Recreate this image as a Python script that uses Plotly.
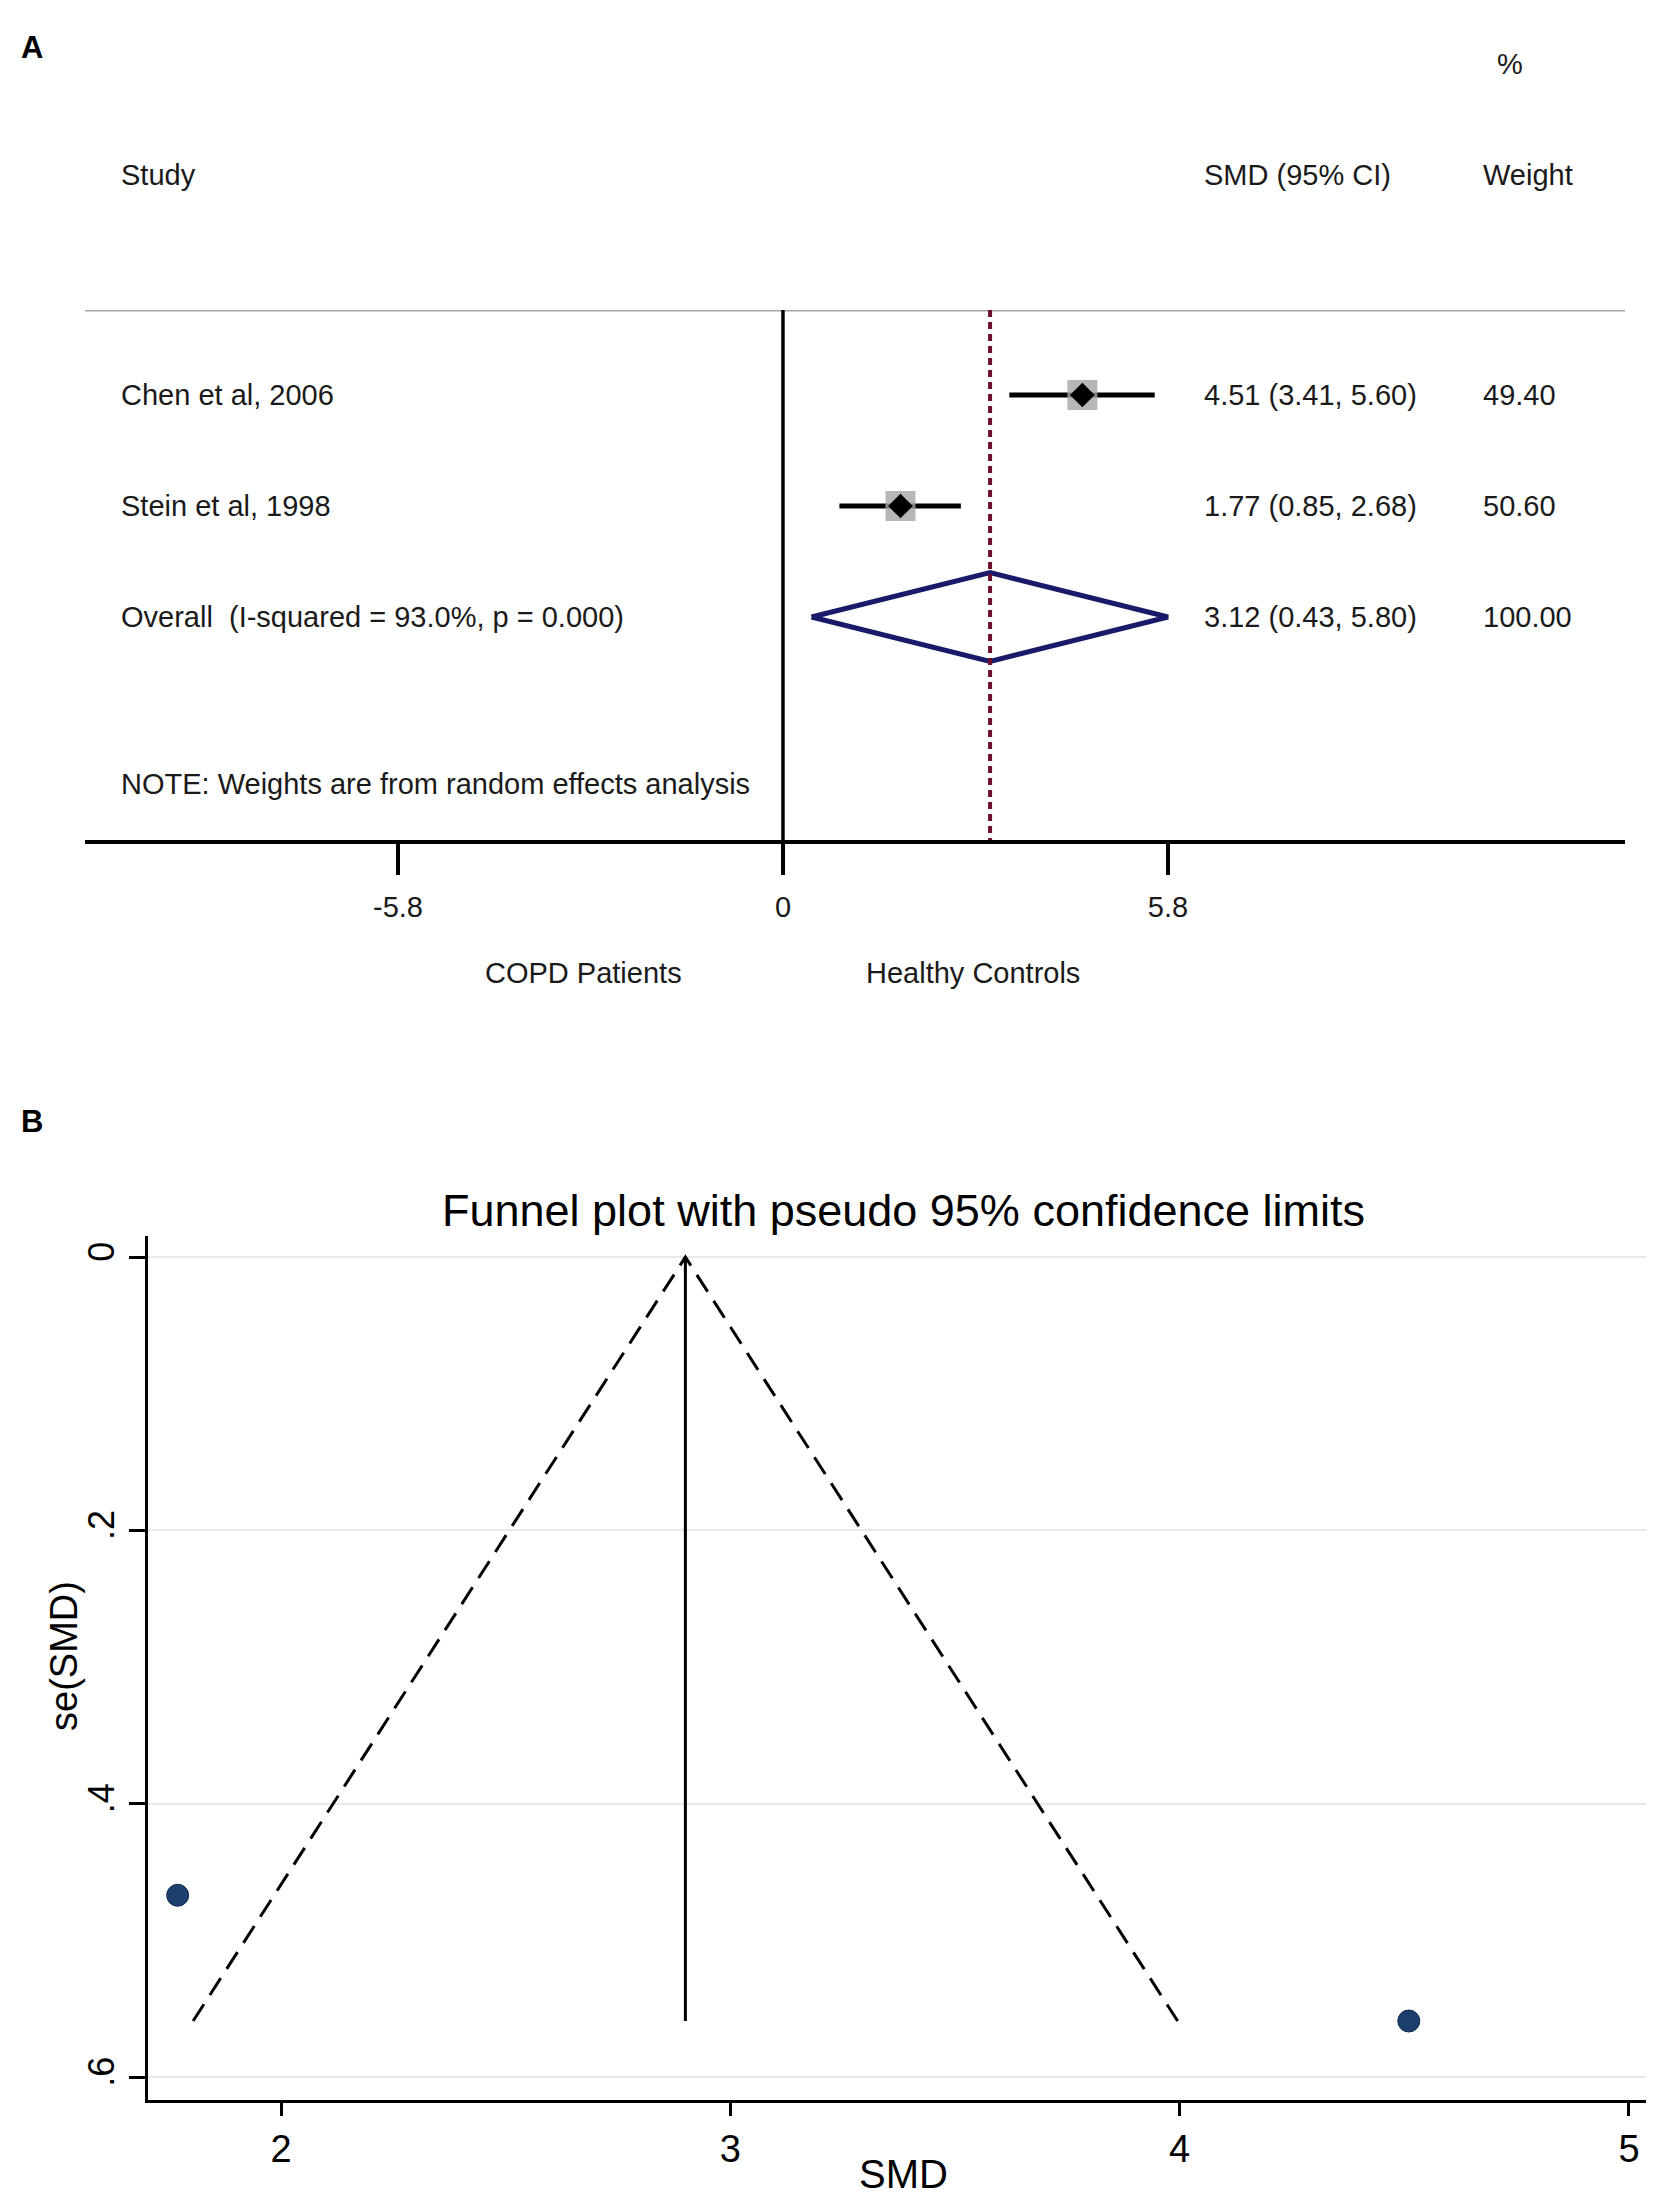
import plotly.graph_objects as go

# ---------------- data ----------------
studies = ["Chen et al, 2006", "Stein et al, 1998"]
smd = [4.51, 1.77]
ci_lo = [3.41, 0.85]
ci_hi = [5.60, 2.68]
weights = ["49.40", "50.60"]
smd_text = ["4.51 (3.41, 5.60)", "1.77 (0.85, 2.68)"]
rows = [1, 2]

overall_label = "Overall  (I-squared = 93.0%, p = 0.000)"
overall_smd = 3.12
overall_lo = 0.43
overall_hi = 5.80
overall_text = "3.12 (0.43, 5.80)"
overall_weight = "100.00"
overall_row = 3
note_row = 4.5

forest_ticks = [-5.8, 0, 5.8]
forest_ticktext = ["-5.8", "0", "5.8"]

# funnel
funnel_smd = [1.77, 4.51]
funnel_se = [0.467, 0.559]
fixed_est = 2.90
se_max = 0.559
funnel_xticks = [2, 3, 4, 5]
funnel_yticks = [0, 0.2, 0.4, 0.6]
funnel_yticktext = ["0", ".2", ".4", ".6"]

W, H = 1654, 2192
FONT = "Liberation Sans, Arial, sans-serif"


def px(x):
    return x / W


def py(y):
    return 1 - y / H


fig = go.Figure()

# ---------------- Panel A: forest plot ----------------
for i in range(len(studies)):
    fig.add_trace(go.Scatter(x=[ci_lo[i], ci_hi[i]], y=[rows[i], rows[i]], mode="lines",
                             line=dict(color="black", width=5), xaxis="x", yaxis="y",
                             showlegend=False, hoverinfo="skip"))
fig.add_trace(go.Scatter(x=smd, y=rows, mode="markers",
                         marker=dict(symbol="square", size=30, color="rgba(165,165,165,0.8)"),
                         xaxis="x", yaxis="y", showlegend=False, hoverinfo="skip"))
fig.add_trace(go.Scatter(x=smd, y=rows, mode="markers",
                         marker=dict(symbol="diamond", size=19, color="black"),
                         xaxis="x", yaxis="y", showlegend=False))
fig.add_trace(go.Scatter(x=[overall_lo, overall_smd, overall_hi, overall_smd, overall_lo],
                         y=[overall_row, overall_row - 0.4, overall_row, overall_row + 0.4, overall_row],
                         mode="lines", line=dict(color="#1a1a6b", width=5),
                         xaxis="x", yaxis="y", showlegend=False))

# ---------------- Panel B: funnel plot ----------------
fig.add_trace(go.Scatter(x=[fixed_est - 1.96 * se_max, fixed_est, fixed_est + 1.96 * se_max],
                         y=[se_max, 0, se_max], mode="lines",
                         line=dict(color="black", width=3, dash="20px,11px"),
                         xaxis="x2", yaxis="y2", showlegend=False))
fig.add_trace(go.Scatter(x=[fixed_est, fixed_est], y=[0, se_max], mode="lines",
                         line=dict(color="black", width=3),
                         xaxis="x2", yaxis="y2", showlegend=False))
fig.add_trace(go.Scatter(x=funnel_smd, y=funnel_se, mode="markers",
                         marker=dict(size=22, color="#1c3f6e", line=dict(color="#102a4c", width=1)),
                         xaxis="x2", yaxis="y2", showlegend=False))

shapes = [
    dict(type="line", xref="x domain", yref="y", x0=0, x1=1, y0=0.234, y1=0.234,
         line=dict(color="#a6a6a6", width=3)),
    dict(type="line", xref="x", yref="y", x0=0, x1=0, y0=0.234, y1=5.009,
         line=dict(color="black", width=3.5)),
    dict(type="line", xref="x", yref="y", x0=overall_smd, x1=overall_smd, y0=0.234, y1=5.009,
         line=dict(color="#6e0f2c", width=4, dash="7px,5px")),
]

annotations = []


def txt(text, x, y, size=29, xanchor="left", yref="paper", xref="paper", bold=False, angle=0,
        color="#1a1a1a"):
    annotations.append(dict(text=("<b>%s</b>" % text) if bold else text, x=x, y=y, xref=xref, yref=yref,
                            xanchor=xanchor, yanchor="middle", showarrow=False, textangle=angle,
                            font=dict(family=FONT, size=size, color=color)))


txt("A", px(11), py(39), size=31, bold=True, color="black")
txt("B", px(11), py(1113), size=31, bold=True, color="black")

txt("%", px(1487), py(56))
txt("Study", px(111), py(167))
txt("SMD (95% CI)", px(1194), py(167))
txt("Weight", px(1473), py(167))

for i in range(len(studies)):
    txt(studies[i], px(111), rows[i], yref="y")
    txt(smd_text[i], px(1194), rows[i], yref="y")
    txt(weights[i], px(1473), rows[i], yref="y")
txt(overall_label, px(111), overall_row, yref="y")
txt(overall_text, px(1194), overall_row, yref="y")
txt(overall_weight, px(1473), overall_row, yref="y")
txt("NOTE: Weights are from random effects analysis", px(111), note_row, yref="y")

txt("COPD Patients", px(575), py(965), xanchor="center")
txt("Healthy Controls", px(965), py(965), xanchor="center")

txt("Funnel plot with pseudo 95% confidence limits", px(895), py(1202), size=45, xanchor="center",
    color="black")
txt("se(SMD)", px(56), py(1648), size=38, xanchor="center", angle=-90, color="black")
txt("SMD", px(895), py(2166), size=40, xanchor="center", color="black")

fig.update_layout(
    width=W, height=H,
    margin=dict(l=0, r=0, t=0, b=0),
    paper_bgcolor="white", plot_bgcolor="white",
    font=dict(family=FONT, color="black"),
    shapes=shapes, annotations=annotations,
    xaxis=dict(domain=[px(77), px(1617)], range=[-10.515, 12.685], anchor="y",
               tickmode="array", tickvals=forest_ticks, ticktext=forest_ticktext,
               ticks="outside", ticklen=31, tickwidth=4, tickcolor="black",
               showline=True, linewidth=4, linecolor="black", showgrid=False, zeroline=False,
               tickfont=dict(family=FONT, size=29, color="#1a1a1a"), ticklabelstandoff=7),
    yaxis=dict(domain=[py(832), py(302)], range=[5.009, 0.234], anchor="x",
               visible=False, showgrid=False, zeroline=False),
    xaxis2=dict(domain=[px(140), px(1647)], range=[1.704, 5.058], anchor="y2",
                tickmode="array", tickvals=funnel_xticks,
                ticks="outside", ticklen=13, tickwidth=2.5, tickcolor="black",
                showline=True, linewidth=2.5, linecolor="black", showgrid=False, zeroline=False,
                tickfont=dict(family=FONT, size=38, color="black"), ticklabelstandoff=1),
    yaxis2=dict(domain=[py(2092), py(1228)], range=[0.6168, -0.0154], anchor="x2",
                tickmode="array", tickvals=funnel_yticks, ticktext=funnel_yticktext,
                ticks="outside", ticklen=16, tickwidth=2.5, tickcolor="black", tickangle=-90,
                showline=True, linewidth=2.5, linecolor="black",
                showgrid=True, gridcolor="#e8e8e8", gridwidth=2, zeroline=False,
                tickfont=dict(family=FONT, size=36, color="black"), ticklabelstandoff=1),
)

fig.write_html("out.html")
